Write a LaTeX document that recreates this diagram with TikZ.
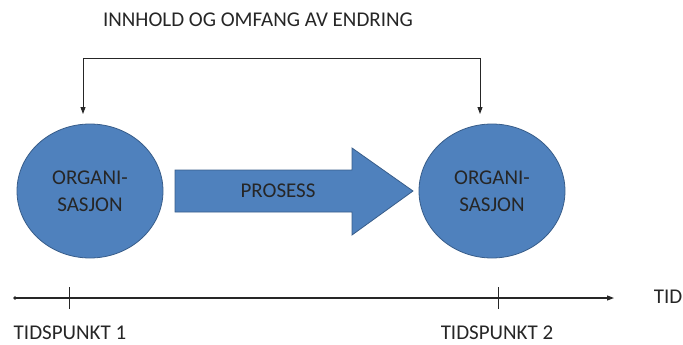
\documentclass[tikz,border=0pt]{standalone}
\usepackage{fontspec}
\setmainfont{Carlito}
\usetikzlibrary{arrows.meta,shapes.geometric}
\definecolor{orgfill}{HTML}{4F81BD}
\definecolor{orgline}{HTML}{385D8A}
\begin{document}
\begin{tikzpicture}[x=1pt,y=-1pt,
  lbl/.style={font=\fontsize{21}{23}\selectfont, text=black!85, inner sep=0pt},
  org/.style={shape=ellipse, draw=orgline, line width=0.8pt, fill=orgfill,
    minimum width=146pt, minimum height=134pt, align=center, inner sep=0pt,
    font=\fontsize{21}{27}\selectfont, text=black!85},
  conn/.style={line width=0.9pt, draw=black!85},
  tip/.style={-{Triangle[length=7pt,width=5pt]}}
]
\useasboundingbox (0,0) rectangle (683,345);
% top label
\node[lbl] (topl) at (258,20) {INNHOLD OG OMFANG AV ENDRING};
% organisations
\node[org] (o1) at (90,191) {ORGANI-\\SASJON};
\node[org] (o2) at (492,191) {ORGANI-\\SASJON};
% bracket connector
\coordinate (b1) at (83,58);
\coordinate (b2) at (480,58);
\coordinate (e1) at (83,114);
\coordinate (e2) at (480,114);
\draw[conn] (b1) -- (b2);
\draw[conn,tip] (b1) -- (e1);
\draw[conn,tip] (b2) -- (e2);
% process arrow
\draw[fill=orgfill, draw=orgline, line width=0.8pt]
  (175,170) -- (352,170) -- (352,148) -- (413,191) -- (352,235) -- (352,212) -- (175,212) -- cycle;
\node[lbl] (proc) at (278,191) {PROSESS};
% time line
\coordinate (t0) at (15,298);
\coordinate (t1) at (614,298);
\fill[black!85] (t0) circle (1.8pt);
\draw[conn,line width=1.1pt,tip] (t0) -- (t1);
\draw[conn] (69,287) -- (69,309);
\draw[conn] (498,287) -- (498,309);
\node[lbl] (tid) at (668,297) {TID};
\node[lbl] (tp1) at (70,333) {TIDSPUNKT 1};
\node[lbl] (tp2) at (497,333) {TIDSPUNKT 2};
\end{tikzpicture}
\end{document}
